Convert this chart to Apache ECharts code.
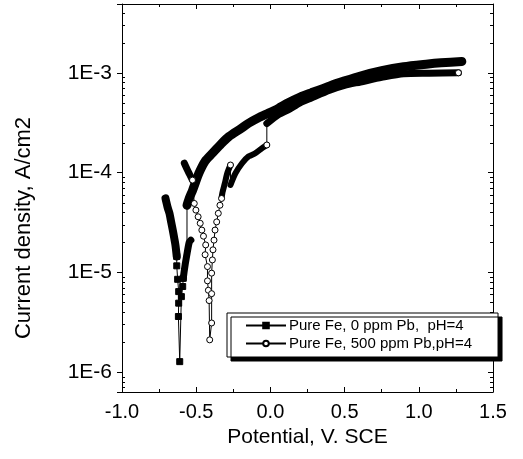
<!DOCTYPE html>
<html><head><meta charset="utf-8">
<script src="https://cdn.jsdelivr.net/npm/echarts@6/dist/echarts.min.js"></script>
<style>html,body{margin:0;padding:0;background:#fff}#c{width:523px;height:459px}</style>
</head><body><div id="c"></div>
<script>
// ---- axis settings ----
const xMin = -1.0, xMax = 1.5, xStep = 0.5;
const yMin = 6.3e-7, yMax = 4.9e-3;
const seriesNames = ['Pure Fe, 0 ppm Pb,  pH=4', 'Pure Fe, 500 ppm Pb,pH=4'];

// ---- Pure Fe, 0 ppm Pb (filled squares) : [E (V SCE), i (A/cm2)] ----
const fe0CathodicBand = [[-0.707,5.5e-5],[-0.693,4.5e-5],[-0.68,3.9e-5],[-0.668,3.15e-5],[-0.658,2.65e-5],[-0.648,2.2e-5],[-0.64,1.88e-5],[-0.631,1.44e-5]];
const fe0NearEcorr = [[-0.631,1.44e-5],[-0.631,1.16e-5],[-0.625,8.5e-6],[-0.618,6.4e-6],[-0.618,4.9e-6],[-0.62,3.6e-6],[-0.611,1.27e-6],[-0.6,5.7e-6],[-0.591,7.2e-6],[-0.587,8.7e-6]];
const fe0AnodicLowBand = [[-0.587,8.7e-6],[-0.58,1.05e-5],[-0.565,1.44e-5],[-0.547,2.0e-5],[-0.536,2.1e-5]];
const fe0Jump = [[-0.562,1.45e-5],[-0.562,4.7e-5]];
const fe0AnodicBand = [[-0.562,4.7e-5],[-0.545,5.6e-5],[-0.525,6.6e-5],[-0.502,8.2e-5],[-0.48,1.0e-4],[-0.44,1.3e-4],[-0.391,1.56e-4],[-0.33,1.95e-4],[-0.28,2.29e-4],[-0.2,2.75e-4],[-0.147,3.12e-4],[-0.08,3.55e-4],[-0.013,3.94e-4],[0.053,4.4e-4],[0.12,5.0e-4],[0.2,5.7e-4],[0.275,6.3e-4],[0.4,7.4e-4],[0.5,8.3e-4],[0.607,9.3e-4],[0.75,1.05e-3],[0.898,1.15e-3],[1.05,1.22e-3],[1.15,1.26e-3],[1.29,1.3e-3]];

// ---- Pure Fe, 500 ppm Pb (open circles) ----
const o500CathodicBand = [[-0.58,1.24e-4],[-0.555,1.03e-4],[-0.525,8.4e-5]];
const o500NearEcorr = [[-0.525,8.4e-5],[-0.513,4.9e-5],[-0.502,4.2e-5],[-0.487,3.6e-5],[-0.473,3.1e-5],[-0.462,2.65e-5],[-0.451,2.3e-5],[-0.436,1.88e-5],[-0.44,1.5e-5],[-0.424,1.14e-5],[-0.424,8.2e-6],[-0.418,6.6e-6],[-0.413,5.2e-6],[-0.409,2.1e-6],[-0.396,3.1e-6],[-0.396,6.1e-6],[-0.396,9.8e-6],[-0.391,1.33e-5],[-0.387,1.68e-5],[-0.38,2.1e-5],[-0.373,2.65e-5],[-0.362,3.2e-5],[-0.351,3.9e-5],[-0.34,4.7e-5],[-0.329,5.5e-5]];
const o500AnodicBand1 = [[-0.329,5.5e-5],[-0.324,6.2e-5],[-0.307,7.8e-5],[-0.291,9.8e-5],[-0.269,1.19e-4]];
const o500AnodicBand2 = [[-0.269,7.5e-5],[-0.236,9.8e-5],[-0.191,1.24e-4],[-0.147,1.45e-4],[-0.102,1.56e-4],[-0.058,1.75e-4],[-0.024,1.89e-4]];
const o500Jumps = [[-0.269,1.19e-4],[-0.269,7.5e-5],'-',[-0.024,1.89e-4],[-0.024,3.1e-4]];
const o500AnodicBand3 = [[-0.024,3.1e-4],[0.053,3.8e-4],[0.12,4.25e-4],[0.2,5.0e-4],[0.276,5.6e-4],[0.4,6.7e-4],[0.5,7.5e-4],[0.607,8.1e-4],[0.75,9.0e-4],[0.898,9.8e-4],[1.07,9.9e-4],[1.267,1.0e-3]];
const o500Marks = [[-0.269,1.19e-4],[-0.024,1.89e-4],[1.267,1.0e-3]];

const chart = echarts.init(document.getElementById('c'), null, {renderer: 'canvas'});
const FONT = 'Liberation Sans, Arial, sans-serif';

function thin(name, data, symbol, fill, showLine) {
  return {type: 'line', name, data, symbol, symbolSize: 6, showAllSymbol: true,
    lineStyle: {color: '#000', width: showLine === false ? 0 : 1},
    itemStyle: {color: fill, borderColor: '#000', borderWidth: 1},
    z: 4, animation: false, emphasis: {disabled: true}};
}
function thick(name, data, width) {
  return {type: 'line', name, data, symbol: 'none', smooth: 0.25,
    lineStyle: {color: '#000', width, cap: 'round', join: 'round'},
    z: 2, animation: false, emphasis: {disabled: true}};
}
function noLabelAxis(extra) {
  return Object.assign({axisLabel: {show: false}, splitLine: {show: false},
    axisLine: {show: true, onZero: false, lineStyle: {color: '#000', width: 1}}}, extra);
}

const option = {
  backgroundColor: '#fff',
  animation: false,
  grid: {left: 122, right: 30, top: 4, bottom: 67},
  legend: {
    orient: 'vertical', left: 227, top: 313,
    data: seriesNames,
    itemWidth: 40, itemHeight: 7, itemGap: 3,
    padding: [5, 26, 6, 18],
    backgroundColor: '#fff', borderColor: '#000', borderWidth: 1,
    shadowColor: '#000', shadowBlur: 0, shadowOffsetX: 4, shadowOffsetY: 4,
    textStyle: {fontFamily: FONT, fontSize: 15, color: '#000', padding: [0, 0, 0, -2]},
    selectedMode: false
  },
  xAxis: [
    {type: 'value', min: xMin, max: xMax, interval: xStep, position: 'bottom',
     name: 'Potential, V. SCE', nameLocation: 'middle', nameGap: 33,
     nameTextStyle: {fontFamily: FONT, fontSize: 21, color: '#000'},
     axisLine: {show: true, onZero: false, lineStyle: {color: '#000', width: 1}},
     axisTick: {show: true, inside: true, length: 5, lineStyle: {color: '#000'}},
     minorTick: {show: true, splitNumber: 2, length: 3, lineStyle: {color: '#000'}},
     axisLabel: {fontFamily: FONT, fontSize: 20, color: '#000', margin: 10, formatter: v => v.toFixed(1)},
     splitLine: {show: false}},
    noLabelAxis({type: 'value', min: xMin, max: xMax, interval: xStep, position: 'top',
     axisTick: {show: true, inside: true, length: 5, lineStyle: {color: '#000'}},
     minorTick: {show: true, splitNumber: 2, length: 3, lineStyle: {color: '#000'}}})
  ],
  yAxis: [
    {type: 'log', logBase: 10, min: yMin, max: yMax, position: 'left',
     name: 'Current density, A/cm2', nameLocation: 'middle', nameGap: 87,
     nameTextStyle: {fontFamily: FONT, fontSize: 22, color: '#000', padding: [0, 60, 0, 0]},
     axisLine: {show: true, onZero: false, lineStyle: {color: '#000', width: 1}},
     axisTick: {show: true, inside: false, length: 5, lineStyle: {color: '#000'}},
     axisLabel: {fontFamily: FONT, fontSize: 21, color: '#000', margin: 10,
       formatter: v => { const e = Math.log10(v); const r = Math.round(e); return Math.abs(e - r) < 1e-6 ? '1E' + r : ''; }},
     splitLine: {show: false}},
    noLabelAxis({type: 'log', logBase: 10, min: yMin, max: yMax, position: 'right',
     axisTick: {show: true, inside: true, length: 5, lineStyle: {color: '#000'}}})
  ],
  series: [
    thin(seriesNames[0], fe0NearEcorr, 'rect', '#000'),
    thick(seriesNames[0], fe0CathodicBand, 8),
    thick(seriesNames[0], fe0AnodicLowBand, 7),
    thin(seriesNames[0], fe0Jump, 'none', '#000'),
    thick(seriesNames[0], fe0AnodicBand, 9),
    thin(seriesNames[1], o500NearEcorr, 'circle', '#fff'),
    thick(seriesNames[1], o500CathodicBand, 7),
    thick(seriesNames[1], o500AnodicBand1, 6),
    thick(seriesNames[1], o500AnodicBand2, 6),
    thin(seriesNames[1], o500Jumps, 'none', '#fff'),
    thick(seriesNames[1], o500AnodicBand3, 7),
    thin(seriesNames[1], o500Marks, 'circle', '#fff', false)
  ]
};
chart.setOption(option);

// log minor ticks on left and right axes, placed through the axis scale
const xl = chart.convertToPixel({xAxisIndex: 0}, xMin);
const xr = chart.convertToPixel({xAxisIndex: 0}, xMax);
const minorMultipliers = [2, 3, 4, 5, 6, 7, 8, 9];
const g = [];
for (let k = -7; k <= -3; k++) {
  for (const m of minorMultipliers) {
    const v = m * Math.pow(10, k);
    if (v <= yMin || v >= yMax) continue;
    const py = Math.round(chart.convertToPixel({yAxisIndex: 0}, v)) + 0.5;
    g.push({type: 'line', silent: true, shape: {x1: xl, y1: py, x2: xl + 3, y2: py}, style: {stroke: '#000', lineWidth: 1}});
    g.push({type: 'line', silent: true, shape: {x1: xr - 3, y1: py, x2: xr, y2: py}, style: {stroke: '#000', lineWidth: 1}});
  }
}
chart.setOption({graphic: g});
</script></body></html>
